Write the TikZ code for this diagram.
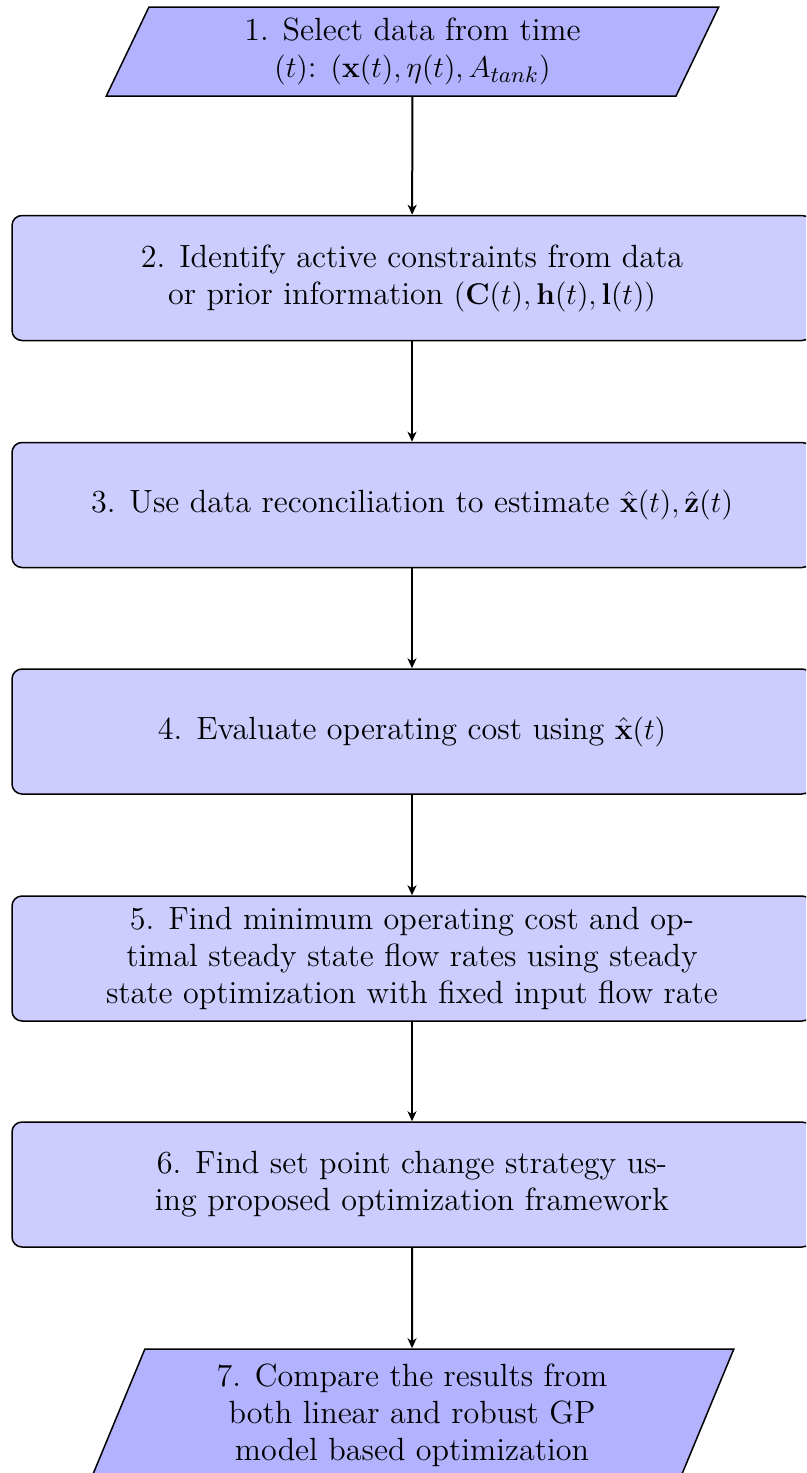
\documentclass[tikz,border=0pt]{standalone}
\usetikzlibrary{shapes.geometric,arrows.meta}
\begin{document}
\begin{tikzpicture}[
  font=\fontsize{12.85}{14.8}\selectfont,
  procbox/.style={draw=black, semithick, rounded corners=4pt, fill=blue!20,
    minimum width=320pt, minimum height=50pt, align=center, inner sep=2pt},
  iobox/.style={draw=black, semithick, fill=blue!30, trapezium,
    trapezium left angle=70, trapezium right angle=110,
    trapezium stretches=true, align=center, inner sep=2pt},
  flow/.style={-{Stealth[length=4pt,width=3.6pt,inset=1.2pt]}, thick}
]
\clip (0,0) rectangle (322.4pt,-589.2pt);
\useasboundingbox (0,0) rectangle (322.4pt,-589.2pt);
\node[iobox, minimum width=245.6pt, minimum height=35.6pt] (n1) at (165pt,-20.6pt)
  {1. Select data from time\\ $(t)$: $(\mathbf{x}(t), \eta(t), A_{tank})$};
\node[procbox] (n2) at (164.8pt,-111.2pt)
  {2. Identify active constraints from data\\ or prior information $(\mathbf{C}(t), \mathbf{h}(t), \mathbf{l}(t))$};
\node[procbox] (n3) at (164.8pt,-202pt)
  {3. Use data reconciliation to estimate $\hat{\mathbf{x}}(t), \hat{\mathbf{z}}(t)$};
\node[procbox] (n4) at (164.8pt,-292.6pt)
  {4. Evaluate operating cost using $\hat{\mathbf{x}}(t)$};
\node[procbox] (n5) at (164.8pt,-383.4pt)
  {5. Find minimum operating cost and op-\\ timal steady state flow rates using steady\\ state optimization with fixed input flow rate};
\node[procbox] (n6) at (164.8pt,-473.8pt)
  {6. Find set point change strategy us-\\ ing proposed optimization framework};
\node[iobox, minimum width=257.6pt, minimum height=52.8pt] (n7) at (164.8pt,-566pt)
  {7. Compare the results from\\ both linear and robust GP\\ model based optimization};
\draw[flow] (n1) -- (n2);
\draw[flow] (n2) -- (n3);
\draw[flow] (n3) -- (n4);
\draw[flow] (n4) -- (n5);
\draw[flow] (n5) -- (n6);
\draw[flow] (n6) -- (n7);
\end{tikzpicture}
\end{document}
